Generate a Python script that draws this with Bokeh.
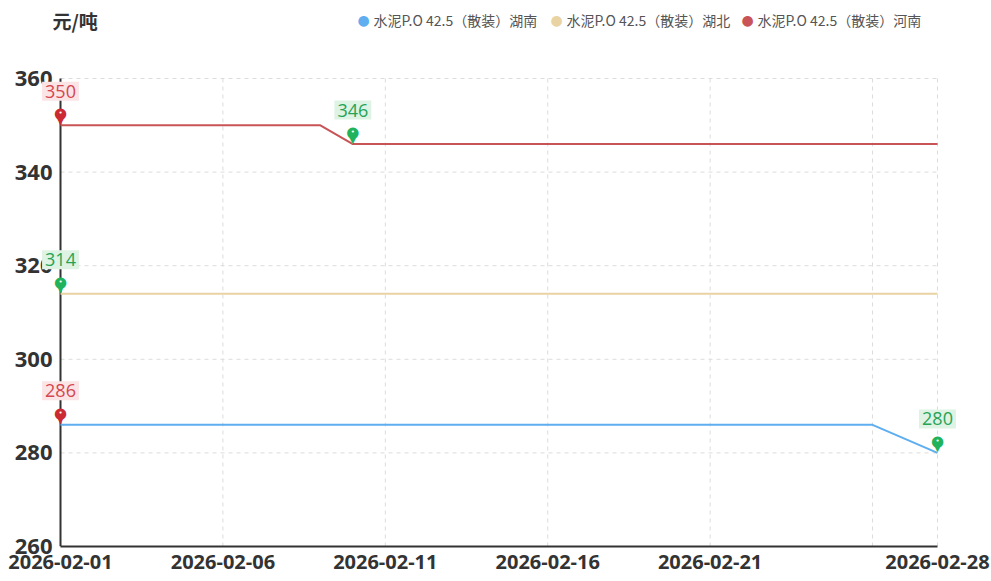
import pandas as pd
from bokeh.plotting import figure
from bokeh.models import ColumnDataSource, FixedTicker, Range1d, Label, DatetimeTickFormatter
from bokeh.embed import file_html
from bokeh.resources import INLINE

dates = ["2026-02-01", "2026-02-02", "2026-02-03", "2026-02-04", "2026-02-05",
         "2026-02-06", "2026-02-07", "2026-02-08", "2026-02-09", "2026-02-10",
         "2026-02-11", "2026-02-12", "2026-02-13", "2026-02-14", "2026-02-15",
         "2026-02-16", "2026-02-17", "2026-02-18", "2026-02-19", "2026-02-20",
         "2026-02-21", "2026-02-22", "2026-02-23", "2026-02-24", "2026-02-25",
         "2026-02-26", "2026-02-27", "2026-02-28"]
hunan = [286, 286, 286, 286, 286, 286, 286, 286, 286, 286,
         286, 286, 286, 286, 286, 286, 286, 286, 286, 286,
         286, 286, 286, 286, 286, 286, None, 280]
hubei = [314, 314, 314, 314, 314, 314, 314, 314, 314, 314,
         314, 314, 314, 314, 314, 314, 314, 314, 314, 314,
         314, 314, 314, 314, 314, 314, 314, 314]
henan = [350, 350, 350, 350, 350, 350, 350, 350, 350, 346,
         346, 346, 346, 346, 346, 346, 346, 346, 346, 346,
         346, 346, 346, 346, 346, 346, 346, 346]
series_names = ["水泥P.O 42.5（散装）湖南", "水泥P.O 42.5（散装）湖北", "水泥P.O 42.5（散装）河南"]
series_colors = ["#5eaef0", "#e9d3a3", "#c85457"]

mark_dates = ["2026-02-01", "2026-02-10", "2026-02-01", "2026-02-01", "2026-02-28"]
mark_vals = [350, 346, 314, 286, 280]
mark_kind = ["max", "min", "min", "max", "min"]

tick_dates = ["2026-02-01", "2026-02-06", "2026-02-11", "2026-02-16", "2026-02-21", "2026-02-26", "2026-02-28"]
tick_labels = ["2026-02-01", "2026-02-06", "2026-02-11", "2026-02-16", "2026-02-21", "", "2026-02-28"]
y_ticks = [260, 280, 300, 320, 340, 360]
unit_label = "元/吨"

FONT = "Open Sans"
CJK = "Noto Sans CJK SC"
PIN = "DejaVu Sans"

# layout (pixels): plot area of the data, plus room round it for labels
DATA_W, DATA_H = 877, 468
PAD_L, PAD_R, PAD_T = 22, 23, 78
FW, FH = DATA_W + PAD_L + PAD_R, DATA_H + PAD_T

xd = pd.to_datetime(dates)
x0, x1 = xd[0], xd[-1]
span_days = (x1 - x0) / pd.Timedelta(days=1)
px_day = DATA_W / span_days
ylo, yhi = y_ticks[0], y_ticks[-1]
px_unit = DATA_H / (yhi - ylo)

p = figure(x_axis_type="datetime", output_backend="svg", toolbar_location=None,
           frame_width=FW, frame_height=FH,
           min_border_left=38, min_border_right=31, min_border_top=0, min_border_bottom=34,
           x_range=Range1d(x0 - pd.Timedelta(days=PAD_L / px_day), x1 + pd.Timedelta(days=PAD_R / px_day)),
           y_range=Range1d(ylo, yhi + PAD_T / px_unit))
p.outline_line_color = None
p.background_fill_color = "white"
p.xgrid.visible = False
p.ygrid.visible = False

# grid, limited to the data area
tick_x = pd.to_datetime(tick_dates)
GRID = dict(line_color="#dcdcdc", line_dash="4 4", line_width=1)
p.segment(x0=list(tick_x[1:]), y0=[ylo] * (len(tick_x) - 1), x1=list(tick_x[1:]), y1=[yhi] * (len(tick_x) - 1), **GRID)
p.segment(x0=[x0] * (len(y_ticks) - 1), y0=y_ticks[1:], x1=[x1] * (len(y_ticks) - 1), y1=y_ticks[1:], **GRID)
# y axis line at the first date
p.segment(x0=[x0], y0=[ylo], x1=[x0], y1=[yhi], line_color="#333333", line_width=2)

for vals, col in zip([hunan, hubei, henan], series_colors):
    xs = [d for d, v in zip(xd, vals) if v is not None]
    ys = [v for v in vals if v is not None]
    src = ColumnDataSource(dict(x=xs, y=ys))
    p.line("x", "y", source=src, line_color=col, line_width=2)

# legend
leg_dot_x = [325, 518, 709]
for name, col, lx in zip(series_names, series_colors, leg_dot_x):
    p.add_layout(Label(x=lx, y=FH - 19, x_units="screen", y_units="screen", text="●",
                       text_align="center", text_baseline="middle", text_color=col,
                       text_font=PIN, text_font_size="14px"))
    p.add_layout(Label(x=lx + 10, y=FH - 19, x_units="screen", y_units="screen", text=name,
                       text_align="left", text_baseline="middle", text_color="#555555",
                       text_font=CJK, text_font_size="14px"))

# unit title
p.add_layout(Label(x=14, y=FH - 20, x_units="screen", y_units="screen", text=unit_label,
                   text_align="left", text_baseline="middle", text_color="#333333",
                   text_font=CJK, text_font_size="19px", text_font_style="bold"))

# max / min pins and value boxes
mx = pd.to_datetime(mark_dates)
for d, v, k in zip(mx, mark_vals, mark_kind):
    pc = "#cc2a33" if k == "max" else "#21b35c"
    tc = "#d4474f" if k == "max" else "#27a356"
    bg = "#fbe4e6" if k == "max" else "#def3e4"
    p.add_layout(Label(x=d, y=v, text=str(v), x_offset=0, y_offset=34,
                       text_align="center", text_baseline="middle", text_color=tc,
                       text_font=FONT, text_font_size="18px",
                       background_fill_color=bg, background_fill_alpha=1.0, padding=3))
    p.add_layout(Label(x=d, y=v, text="▼", y_offset=5, text_align="center",
                       text_baseline="middle", text_color=pc,
                       text_font=PIN, text_font_size="11px"))
    p.add_layout(Label(x=d, y=v, text="●", y_offset=12, text_align="center",
                       text_baseline="middle", text_color=pc,
                       text_font=PIN, text_font_size="15px"))
    p.add_layout(Label(x=d, y=v, text="•", y_offset=12, text_align="center",
                       text_baseline="middle", text_color="white",
                       text_font=PIN, text_font_size="7px"))

# axes
tick_ms = [int(t.value // 10**6) for t in tick_x]
p.xaxis.ticker = FixedTicker(ticks=tick_ms)
p.xaxis.formatter = DatetimeTickFormatter(days="%Y-%m-%d", months="%Y-%m-%d")
p.xaxis.major_label_overrides = {t: l for t, l in zip(tick_ms, tick_labels)}
p.xaxis.bounds = (tick_ms[0], tick_ms[-1])
p.yaxis.ticker = FixedTicker(ticks=y_ticks)
p.yaxis.axis_line_color = None
p.xaxis.axis_line_color = "#333333"
p.xaxis.axis_line_width = 2
for ax in (p.xaxis, p.yaxis):
    ax.major_tick_line_color = None
    ax.minor_tick_line_color = None
    ax.major_tick_out = 0
    ax.major_label_text_font = FONT
    ax.major_label_text_font_style = "bold"
    ax.major_label_text_color = "#333333"
p.xaxis.major_label_text_font_size = "20px"
p.yaxis.major_label_text_font_size = "22px"
p.xaxis.major_label_standoff = 8
p.yaxis.major_label_standoff = -14

open("out.html", "w").write(file_html(p, INLINE))
